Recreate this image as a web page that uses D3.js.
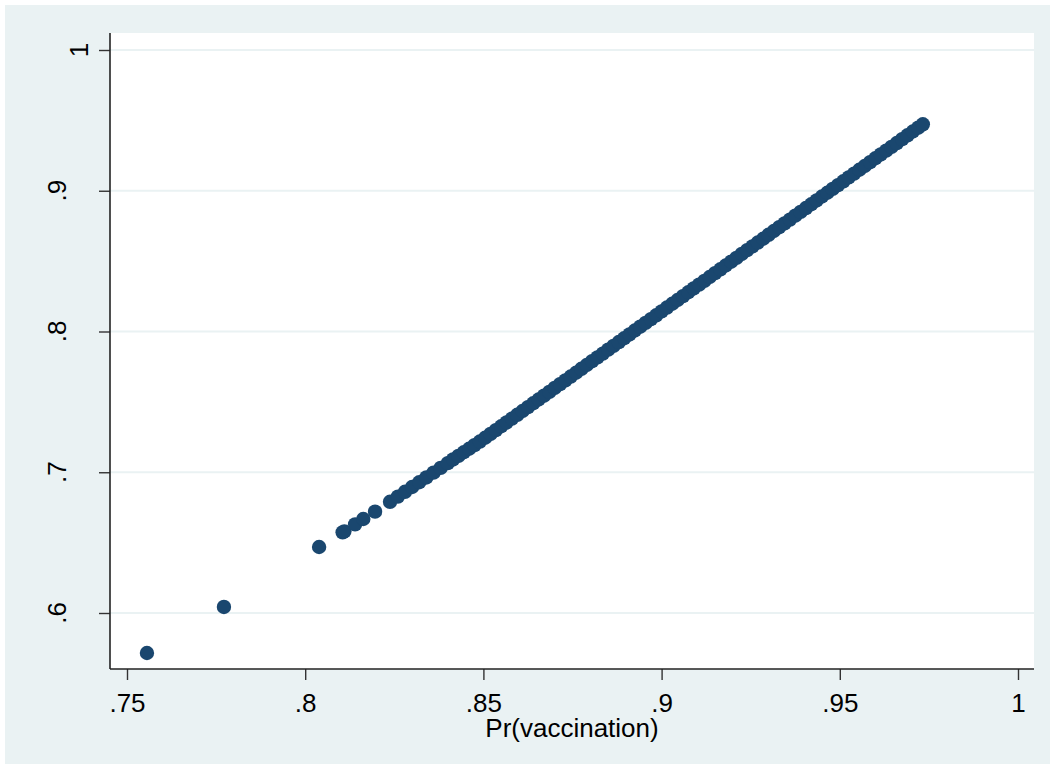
<!DOCTYPE html>
<html>
<head>
<meta charset="utf-8">
<script src="https://cdn.jsdelivr.net/npm/d3@7"></script>
<style>
  body { margin: 0; background: #ffffff; }
  text { font-family: "Liberation Sans", Arial, sans-serif; fill: #000; }
</style>
</head>
<body>
<div id="scatter"></div>
<script>
// canvas size
var width = 1051;
var height = 769;

// data: Pr(vaccination) vs fitted value
var prVacc = [
  0.7556, 0.7772, 0.8039, 0.8105, 0.8110, 0.8140, 0.8163, 0.8196,
  0.8238, 0.8260, 0.8280, 0.8300, 0.8320, 0.8340, 0.8360, 0.8380, 0.8400,
  0.8415, 0.8430, 0.8445, 0.8460, 0.8475, 0.8490, 0.8505, 0.8520, 0.8535,
  0.8550, 0.8565, 0.8580, 0.8595, 0.8610, 0.8625, 0.8640, 0.8655, 0.8670,
  0.8685, 0.8700, 0.8715, 0.8730, 0.8745, 0.8760, 0.8775, 0.8790, 0.8805,
  0.8820, 0.8835, 0.8850, 0.8865, 0.8880, 0.8895, 0.8910, 0.8925, 0.8940,
  0.8955, 0.8970, 0.8985, 0.9000, 0.9015, 0.9030, 0.9045, 0.9060, 0.9075,
  0.9090, 0.9105, 0.9120, 0.9135, 0.9150, 0.9165, 0.9180, 0.9195, 0.9210,
  0.9225, 0.9240, 0.9255, 0.9270, 0.9285, 0.9300, 0.9315, 0.9330, 0.9345,
  0.9360, 0.9375, 0.9390, 0.9405, 0.9420, 0.9435, 0.9450, 0.9465, 0.9480,
  0.9495, 0.9510, 0.9525, 0.9540, 0.9555, 0.9570, 0.9585, 0.9600, 0.9615,
  0.9630, 0.9645, 0.9660, 0.9675, 0.9690, 0.9705, 0.9720, 0.9733
];
var fitted = [
  0.5716, 0.6043, 0.6469, 0.6573, 0.6580, 0.6630, 0.6668, 0.6720,
  0.6790, 0.6827, 0.6861, 0.6895, 0.6929, 0.6963, 0.6997, 0.7031, 0.7065,
  0.7091, 0.7116, 0.7142, 0.7167, 0.7193, 0.7218, 0.7245, 0.7272, 0.7299,
  0.7327, 0.7354, 0.7381, 0.7408, 0.7435, 0.7463, 0.7490, 0.7517, 0.7544,
  0.7571, 0.7599, 0.7626, 0.7653, 0.7680, 0.7707, 0.7735, 0.7762, 0.7789,
  0.7816, 0.7843, 0.7871, 0.7898, 0.7925, 0.7952, 0.7979, 0.8007, 0.8034,
  0.8061, 0.8088, 0.8115, 0.8143, 0.8170, 0.8197, 0.8224, 0.8251, 0.8279,
  0.8306, 0.8333, 0.8360, 0.8387, 0.8415, 0.8442, 0.8469, 0.8496, 0.8523,
  0.8551, 0.8578, 0.8605, 0.8632, 0.8659, 0.8687, 0.8714, 0.8741, 0.8768,
  0.8795, 0.8823, 0.8850, 0.8877, 0.8904, 0.8931, 0.8959, 0.8986, 0.9013,
  0.9040, 0.9067, 0.9095, 0.9122, 0.9149, 0.9176, 0.9203, 0.9231, 0.9258,
  0.9285, 0.9312, 0.9339, 0.9367, 0.9394, 0.9421, 0.9448, 0.9472
];

// ticks and their labels
var xTicks = [0.75, 0.8, 0.85, 0.9, 0.95, 1];
var xTickLabels = [".75", ".8", ".85", ".9", ".95", "1"];
var yTicks = [0.6, 0.7, 0.8, 0.9, 1];
var yTickLabels = [".6", ".7", ".8", ".9", "1"];
var xTitle = "Pr(vaccination)";

// plot region
var plot = { left: 110, right: 1034, top: 33, bottom: 669 };

var svg = d3.select("#scatter")
  .append("svg")
  .attr("width", width)
  .attr("height", height);

// outer graph region
svg.append("rect")
  .attr("x", 5).attr("y", 5)
  .attr("width", 1045).attr("height", 759)
  .attr("fill", "#eaf2f3");

// inner plot region
svg.append("rect")
  .attr("x", plot.left).attr("y", plot.top)
  .attr("width", plot.right - plot.left)
  .attr("height", plot.bottom - plot.top)
  .attr("fill", "#ffffff");

var xscale = d3.scaleLinear()
  .domain([0.75, 1])
  .range([127, 1018]);
var yscale = d3.scaleLinear()
  .domain([0.6, 1])
  .range([613, 50]);

// horizontal grid lines
svg.append("g")
  .selectAll("line")
  .data(yTicks)
  .enter()
  .append("line")
  .attr("x1", plot.left)
  .attr("x2", plot.right)
  .attr("y1", d => yscale(d))
  .attr("y2", d => yscale(d))
  .attr("stroke", "#eaf2f3")
  .attr("stroke-width", 2);

// x axis
var xAxis = d3.axisBottom(xscale)
  .tickValues(xTicks)
  .tickSize(11)
  .tickFormat((d, i) => xTickLabels[i]);
var gx = svg.append("g")
  .attr("transform", `translate(0, ${plot.bottom})`)
  .call(xAxis);
gx.select(".domain").remove();
gx.selectAll(".tick line").attr("stroke", "#333").attr("stroke-width", 1.4);
gx.selectAll(".tick text")
  .attr("y", 43)
  .attr("dy", null)
  .style("font-size", "26px")
  .style("font-family", "Liberation Sans, Arial, sans-serif")
  .attr("fill", "#000");

// y axis (labels rotated, as Stata does)
var yAxis = d3.axisLeft(yscale)
  .tickValues(yTicks)
  .tickSize(11)
  .tickFormat("");
var gy = svg.append("g")
  .attr("transform", `translate(${plot.left}, 0)`)
  .call(yAxis);
gy.select(".domain").remove();
gy.selectAll(".tick line").attr("stroke", "#333").attr("stroke-width", 1.4);

svg.append("g")
  .selectAll("text")
  .data(yTicks)
  .enter()
  .append("text")
  .attr("transform", (d, i) => {
    var bx = yTickLabels[i].charAt(0) == "." ? 66 : 88;
    return `translate(${bx}, ${yscale(d)}) rotate(-90)`;
  })
  .style("text-anchor", "middle")
  .style("font-size", "26px")
  .text((d, i) => yTickLabels[i]);

// axis lines
svg.append("line")
  .attr("x1", plot.left).attr("x2", plot.right)
  .attr("y1", plot.bottom).attr("y2", plot.bottom)
  .attr("stroke", "#222").attr("stroke-width", 1.6);
svg.append("line")
  .attr("x1", plot.left).attr("x2", plot.left)
  .attr("y1", plot.top).attr("y2", plot.bottom)
  .attr("stroke", "#222").attr("stroke-width", 1.6);

// scatter
svg.append("g")
  .selectAll("circle")
  .data(prVacc)
  .enter()
  .append("circle")
  .attr("cx", d => xscale(d))
  .attr("cy", (d, i) => yscale(fitted[i]))
  .attr("r", 7.2)
  .attr("fill", "#1a476f");

// x axis title
svg.append("text")
  .attr("x", (plot.left + plot.right) / 2)
  .attr("y", 737)
  .style("text-anchor", "middle")
  .style("font-size", "26px")
  .text(xTitle);
</script>
</body>
</html>
